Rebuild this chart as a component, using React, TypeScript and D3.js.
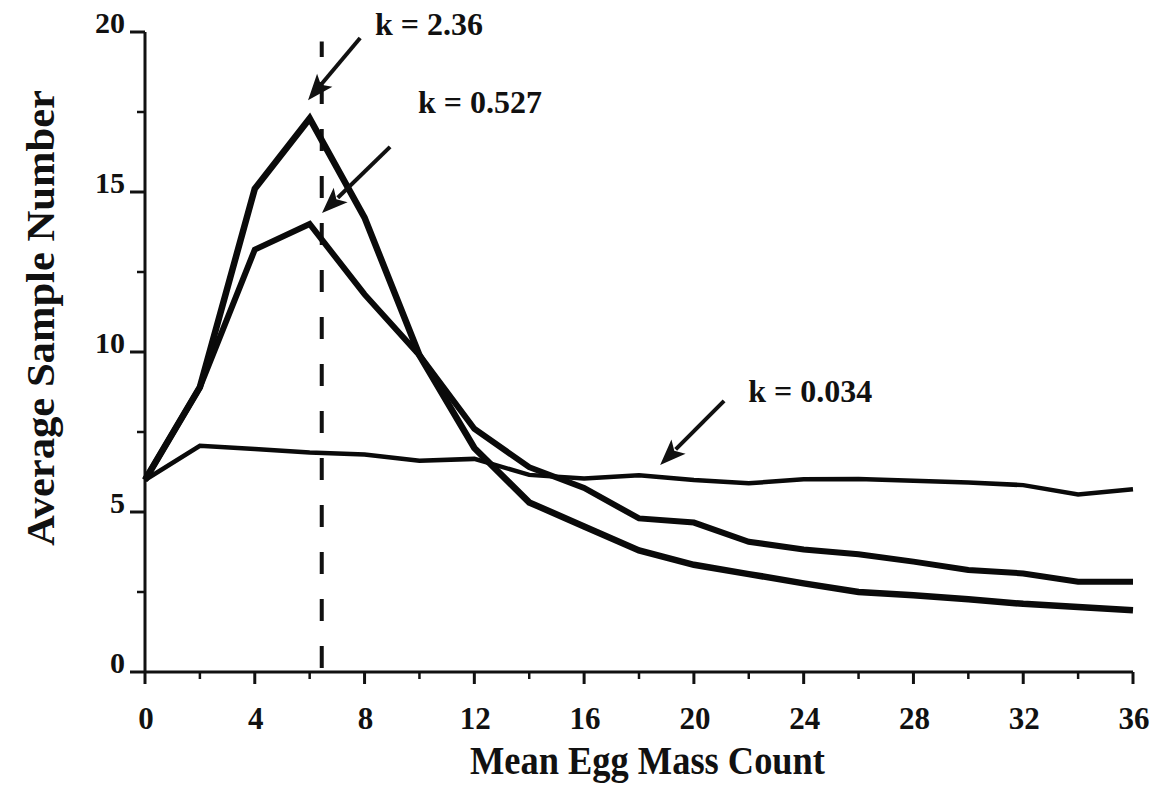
import { useEffect, useRef } from 'react';
import * as d3 from 'd3';

// mean egg mass count (x) for each simulated point
const meanCounts = [0, 2, 4, 6, 8, 10, 12, 14, 16, 18, 20, 22, 24, 26, 28, 30, 32, 34, 36];

// average sample number for three values of k
const asnK236 = [6.0, 8.9, 15.1, 17.3, 14.2, 9.9, 7.0, 5.3, 4.55, 3.8, 3.35, 3.06, 2.77, 2.5, 2.4, 2.27, 2.13, 2.03, 1.93];
const asnK0527 = [6.0, 8.9, 13.2, 14.0, 11.8, 9.9, 7.6, 6.4, 5.75, 4.8, 4.67, 4.07, 3.83, 3.68, 3.45, 3.19, 3.08, 2.82, 2.82];
const asnK0034 = [6.0, 7.07, 6.97, 6.86, 6.8, 6.6, 6.66, 6.16, 6.05, 6.15, 6.0, 5.9, 6.02, 6.03, 5.98, 5.92, 5.84, 5.55, 5.71];

const xMajorTicks = [0, 4, 8, 12, 16, 20, 24, 28, 32, 36];
const xMinorTicks = [2, 6, 10, 14, 18, 22, 26, 30, 34];
const yMajorTicks = [0, 5, 10, 15, 20];
const yMinorTicks = [2.5, 7.5, 12.5, 17.5];

const peakMean = 6.44;

// label text, label anchor (data units), arrow tail, arrow tip
const annotations = [
  { text: 'k = 2.36', lx: 8.38, ly: 19.9, tail: [7.84, 19.81], tip: [5.94, 17.87] },
  { text: 'k = 0.527', lx: 9.95, ly: 17.47, tail: [8.93, 16.41], tip: [6.45, 14.34] },
  { text: 'k = 0.034', lx: 21.98, ly: 8.45, tail: [21.1, 8.47], tip: [18.77, 6.47] },
];

const W = 1160;
const H = 792;
const FONT = '"Liberation Serif", "Times New Roman", serif';

export default function App() {
  const svgRef = useRef<SVGSVGElement>(null);

  useEffect(() => {
    if (!svgRef.current) return;
    const svg = d3.select(svgRef.current);
    svg.selectAll('*').remove();

    const left = 145;
    const right = 1133;
    const top = 32;
    const bottom = 672;

    const x = d3.scaleLinear().domain([0, 36]).range([left, right]);
    const y = d3.scaleLinear().domain([0, 20]).range([bottom, top]);

    svg.append('rect').attr('width', W).attr('height', H).attr('fill', '#fff');

    // axes
    const axisColor = '#111';
    svg.append('line')
      .attr('x1', left).attr('x2', left)
      .attr('y1', top).attr('y2', bottom)
      .attr('stroke', axisColor).attr('stroke-width', 3);
    svg.append('line')
      .attr('x1', left).attr('x2', right)
      .attr('y1', bottom).attr('y2', bottom)
      .attr('stroke', axisColor).attr('stroke-width', 3);

    // x ticks
    svg.append('g').selectAll('line').data(xMajorTicks).join('line')
      .attr('x1', d => x(d)).attr('x2', d => x(d))
      .attr('y1', bottom).attr('y2', bottom + 12)
      .attr('stroke', axisColor).attr('stroke-width', 3);
    svg.append('g').selectAll('line').data(xMinorTicks).join('line')
      .attr('x1', d => x(d)).attr('x2', d => x(d))
      .attr('y1', bottom).attr('y2', bottom + 7)
      .attr('stroke', axisColor).attr('stroke-width', 2.5);
    svg.append('g').selectAll('text').data(xMajorTicks).join('text')
      .attr('x', d => x(d) + 1)
      .attr('y', bottom + 57)
      .attr('text-anchor', 'middle')
      .attr('font-family', FONT).attr('font-weight', 'bold').attr('font-size', 31)
      .attr('fill', '#111')
      .text(d => d);

    // y ticks
    svg.append('g').selectAll('line').data(yMajorTicks).join('line')
      .attr('x1', left - 15).attr('x2', left)
      .attr('y1', d => y(d)).attr('y2', d => y(d))
      .attr('stroke', axisColor).attr('stroke-width', 3);
    svg.append('g').selectAll('line').data(yMinorTicks).join('line')
      .attr('x1', left - 8).attr('x2', left)
      .attr('y1', d => y(d)).attr('y2', d => y(d))
      .attr('stroke', axisColor).attr('stroke-width', 2.5);
    svg.append('g').selectAll('text').data(yMajorTicks).join('text')
      .attr('x', left - 20)
      .attr('y', d => y(d) + 1)
      .attr('text-anchor', 'end')
      .attr('font-family', FONT).attr('font-weight', 'bold').attr('font-size', 30)
      .attr('fill', '#111')
      .text(d => d);

    // axis titles
    svg.append('text')
      .attr('x', 470).attr('y', 774)
      .attr('textLength', 355).attr('lengthAdjust', 'spacingAndGlyphs')
      .attr('font-family', FONT).attr('font-weight', 'bold').attr('font-size', 41)
      .attr('fill', '#111')
      .text('Mean Egg Mass Count');
    svg.append('text')
      .attr('transform', `translate(54, 546) rotate(-90)`)
      .attr('textLength', 456).attr('lengthAdjust', 'spacingAndGlyphs')
      .attr('font-family', FONT).attr('font-weight', 'bold').attr('font-size', 41)
      .attr('fill', '#111')
      .text('Average Sample Number');

    // dashed reference line
    svg.append('line')
      .attr('x1', x(peakMean)).attr('x2', x(peakMean))
      .attr('y1', bottom - 2).attr('y2', y(19.7))
      .attr('stroke', '#111').attr('stroke-width', 4)
      .attr('stroke-dasharray', '22 25')
      .attr('stroke-dashoffset', -2);

    // curves
    const line = d3.line<number>()
      .x((_, i) => x(meanCounts[i]))
      .y(d => y(d));

    const series = [
      { values: asnK0034, width: 4.5 },
      { values: asnK0527, width: 6 },
      { values: asnK236, width: 6.5 },
    ];
    svg.append('g').selectAll('path').data(series).join('path')
      .attr('d', d => line(d.values))
      .attr('fill', 'none')
      .attr('stroke', '#0a0a0a')
      .attr('stroke-width', d => d.width)
      .attr('stroke-linejoin', 'miter')
      .attr('stroke-miterlimit', 3);

    // annotations with arrows
    const ann = svg.append('g');
    annotations.forEach(a => {
      const tx = x(a.tail[0]);
      const ty = y(a.tail[1]);
      const px = x(a.tip[0]);
      const py = y(a.tip[1]);
      const ang = Math.atan2(py - ty, px - tx);
      const headLen = 26;
      const headHalf = 10;
      const bx = px - Math.cos(ang) * headLen;
      const by = py - Math.sin(ang) * headLen;
      const nx = -Math.sin(ang);
      const ny = Math.cos(ang);

      ann.append('line')
        .attr('x1', tx).attr('y1', ty)
        .attr('x2', bx + Math.cos(ang) * 4).attr('y2', by + Math.sin(ang) * 4)
        .attr('stroke', '#111').attr('stroke-width', 4);
      ann.append('polygon')
        .attr('points', [
          [px, py],
          [bx + nx * headHalf, by + ny * headHalf],
          [bx + Math.cos(ang) * 6, by + Math.sin(ang) * 6],
          [bx - nx * headHalf, by - ny * headHalf],
        ].map(p => p.join(',')).join(' '))
        .attr('fill', '#111');

      ann.append('text')
        .attr('x', x(a.lx)).attr('y', y(a.ly))
        .attr('font-family', FONT).attr('font-weight', 'bold').attr('font-size', 32)
        .attr('fill', '#111')
        .text(a.text);
    });
  }, []);

  return (
    <svg
      ref={svgRef}
      width={W}
      height={H}
      style={{ position: 'absolute', left: 0, top: 0, display: 'block' }}
    />
  );
}
